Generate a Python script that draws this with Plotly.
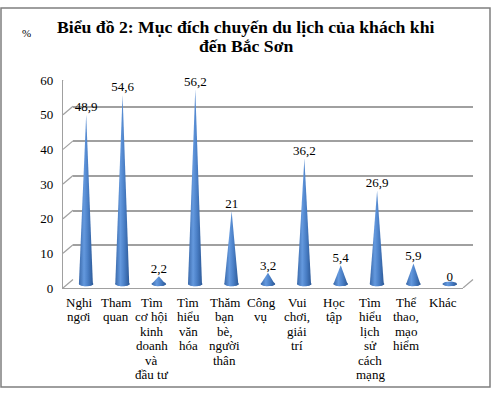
import plotly.graph_objects as go
import numpy as np

# ---------------- data ----------------
categories = [
    "Nghi<br>ngơi",
    "Tham<br>quan",
    "Tìm<br>cơ hội<br>kinh<br>doanh<br>và<br>đầu tư",
    "Tìm<br>hiểu<br>văn<br>hóa",
    "Thăm<br>bạn<br>bè,<br>người<br>thân",
    "Công<br>vụ",
    "Vui<br>chơi,<br>giải<br>trí",
    "Học<br>tập",
    "Tìm<br>hiểu<br>lịch<br>sử<br>cách<br>mạng",
    "Thể<br>thao,<br>mạo<br>hiểm",
    "Khác",
]
values = [48.9, 54.6, 2.2, 56.2, 21, 3.2, 36.2, 5.4, 26.9, 5.9, 0]
y_ticks = [0, 10, 20, 30, 40, 50, 60]
title_lines = ["Biểu đồ 2: Mục đích chuyến du lịch của khách khi", "đến Bắc Sơn"]
y_unit = "%"

# ---------------- layout constants (pixels) ----------------
W, H = 492, 397
FONT = "Liberation Serif, DejaVu Serif, serif"
FX0, FX1 = 63, 463          # front x extent
FY0, FY60 = 292, 76         # front y of value 0 and 60
DX, DY = 10, 8.5            # depth offset of back wall
GRID = "#A0A0A0"


def fx(p):
    return p / W


def fy(p):
    return 1 - p / H


def ydom(y0px, y60px, lo, hi, vmin=0, vmax=60):
    s = (y0px - y60px) / (vmax - vmin)
    return [fy(y0px + (vmin - lo) * s), fy(y60px - (hi - vmax) * s)]


n = len(values)
xr = [-0.5, n - 0.5]

fig = go.Figure()

# back wall (gridlines) -> x/y
fig.add_trace(go.Scatter(x=[None], y=[None], xaxis="x", yaxis="y", showlegend=False, hoverinfo="skip"))

# cones -> x2/y2 (mid depth)
HW = 0.2
RY = 0.7
cs = [[0, "#3A69AA"], [0.35, "#6499DE"], [0.62, "#4A7FC6"], [1, "#2A5693"]]
t = np.linspace(0, -np.pi, 25)
t_full = np.linspace(0, 2 * np.pi, 49)
for i, v in enumerate(values):
    xs = [i, i + HW] + list(i + HW * np.cos(t)) + [i - HW, i]
    ys = [v, 0] + list(RY * np.sin(t)) + [0, v]
    fig.add_trace(go.Scatter(
        x=xs, y=ys, mode="lines", fill="toself", line=dict(width=0, color="rgba(0,0,0,0)"),
        fillgradient=dict(type="horizontal", colorscale=cs, start=i - HW, stop=i + HW),
        xaxis="x2", yaxis="y2", showlegend=False, hoverinfo="skip"))
    fig.add_trace(go.Scatter(
        x=list(i + HW * np.cos(t_full)), y=list(RY * np.sin(t_full)), mode="lines", fill="toself",
        line=dict(width=0, color="rgba(0,0,0,0)"),
        fillgradient=dict(type="horizontal", colorscale=cs, start=i - HW, stop=i + HW),
        xaxis="x2", yaxis="y2", showlegend=False, hoverinfo="skip"))

fig.add_trace(go.Scatter(
    x=list(range(n)), y=values, mode="text",
    text=[f"{v:g}".replace(".", ",") for v in values],
    textposition="top center", textfont=dict(family=FONT, size=13, color="black"),
    cliponaxis=False, xaxis="x2", yaxis="y2", showlegend=False, hoverinfo="skip"))

# front axis -> x3/y3
fig.add_trace(go.Scatter(x=[None], y=[None], xaxis="x3", yaxis="y3", showlegend=False, hoverinfo="skip"))

fig.update_layout(
    width=W, height=H,
    margin=dict(l=0, r=0, t=0, b=0),
    paper_bgcolor="white", plot_bgcolor="rgba(0,0,0,0)",
    font=dict(family=FONT, color="black"),
    xaxis=dict(domain=[fx(FX0 + DX), fx(FX1 + DX)], range=xr, visible=False, anchor="y"),
    yaxis=dict(domain=ydom(FY0 - DY, FY60 - DY, 0, 60), range=[0, 60], anchor="x",
               showgrid=True, gridcolor=GRID, gridwidth=1.5, tickvals=y_ticks,
               showticklabels=False, zeroline=False, showline=False, ticks=""),
    xaxis2=dict(domain=[fx(FX0 + DX / 2), fx(FX1 + DX / 2)], range=xr, visible=False, anchor="y2"),
    yaxis2=dict(domain=ydom(FY0 - DY / 2, FY60 - DY / 2, -3, 63), range=[-3, 63], visible=False, anchor="x2"),
    xaxis3=dict(domain=[fx(FX0), fx(FX1)], range=xr, anchor="y3", showgrid=False, zeroline=False,
                showticklabels=False, ticks="", showline=True, linecolor=GRID, linewidth=1.2),
    yaxis3=dict(domain=ydom(FY0, FY60, 0, 60), range=[0, 60], anchor="x3", showgrid=False,
                zeroline=False, tickvals=y_ticks, ticktext=[str(v) for v in y_ticks], ticks="",
                ticklabelstandoff=6, tickfont=dict(family=FONT, size=13, color="black"),
                showline=True, linecolor=GRID, linewidth=1.2),
)

shapes = []
# left wall depth ticks
for v in y_ticks:
    shapes.append(dict(type="line", xref="paper", x0=fx(FX0), x1=fx(FX0 + DX),
                       yref="y3", ysizemode="pixel", yanchor=v, y0=0, y1=DY,
                       line=dict(color=GRID, width=1.2), layer="below"))
# right floor edge
shapes.append(dict(type="line", xref="paper", x0=fx(FX1), x1=fx(FX1 + DX),
                   yref="y3", ysizemode="pixel", yanchor=0, y0=0, y1=DY,
                   line=dict(color=GRID, width=1.2), layer="below"))
# outer border
shapes.append(dict(type="rect", xref="paper", yref="paper", x0=fx(1), x1=fx(490), y0=fy(395), y1=fy(1),
                   line=dict(color="#7F7F7F", width=1.5)))
fig.update_layout(shapes=shapes)

ann = []
for k, line in enumerate(title_lines):
    ann.append(dict(text=f"<b>{line}</b>", xref="paper", yref="paper", x=fx(246), y=fy(21 + 20 * k),
                    xanchor="center", yanchor="middle", showarrow=False,
                    font=dict(family=FONT, size=17.7, color="black")))
ann.append(dict(text=y_unit, xref="paper", yref="paper", x=fx(26), y=fy(27), xanchor="center",
                yanchor="middle", showarrow=False, font=dict(family=FONT, size=11, color="black")))
for i, cat in enumerate(categories):
    for k, line in enumerate(cat.split("<br>")):
        ann.append(dict(text=line, xref="x2", yref="paper", x=i, xshift=-7, y=fy(307 + 15 * k),
                        xanchor="center", yanchor="middle", showarrow=False,
                        font=dict(family=FONT, size=13, color="black")))
fig.update_layout(annotations=ann)

fig.write_html("out.html")
